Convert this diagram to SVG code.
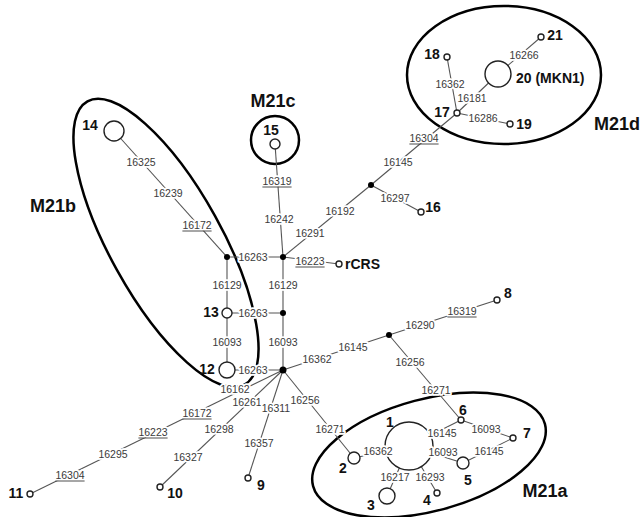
<svg xmlns="http://www.w3.org/2000/svg" width="643" height="517" viewBox="0 0 643 517">
<style>
.ln{stroke:#555;stroke-width:1.1;fill:none}
.grp{stroke:#000;stroke-width:2.5;fill:none}
.nd{fill:#fff;stroke:#222;stroke-width:1.4}
.dot{fill:#000}
.mu{font-family:"Liberation Sans",Arial,sans-serif;font-size:10.5px;fill:#3a3a3a;text-anchor:middle;stroke:#fff;stroke-width:3.5px;paint-order:stroke;stroke-linejoin:round}
.ul{stroke:#3a3a3a;stroke-width:0.9}
.nl{font-family:"Liberation Sans",Arial,sans-serif;font-size:14px;font-weight:bold;fill:#111;text-anchor:middle}
.gl{font-family:"Liberation Sans",Arial,sans-serif;font-size:18px;font-weight:bold;fill:#111;text-anchor:middle}
</style>
<rect width="643" height="517" fill="#fff"/>
<g id="groups">
<ellipse class="grp" cx="166" cy="243" rx="162" ry="56" transform="rotate(61 166 243)"/>
<circle class="grp" cx="275" cy="140" r="24"/>
<ellipse class="grp" cx="504" cy="75" rx="97" ry="69"/>
<ellipse class="grp" cx="429" cy="455" rx="120" ry="56" transform="rotate(-15 429 455)"/>
<text class="gl" x="53" y="212">M21b</text>
<text class="gl" x="273" y="107">M21c</text>
<text class="gl" x="617" y="130">M21d</text>
<text class="gl" x="545" y="497">M21a</text>
</g>
<g id="connectors">
<line class="ln" x1="275" y1="144" x2="283" y2="257"/>
<line class="ln" x1="283" y1="257" x2="283" y2="370"/>
<line class="ln" x1="227" y1="257" x2="283" y2="257"/>
<line class="ln" x1="227" y1="257" x2="227" y2="370"/>
<line class="ln" x1="227" y1="313" x2="283" y2="313"/>
<line class="ln" x1="227" y1="370" x2="283" y2="370"/>
<line class="ln" x1="114" y1="131" x2="227" y2="257"/>
<line class="ln" x1="283" y1="257" x2="339" y2="264"/>
<line class="ln" x1="283" y1="257" x2="371" y2="185"/>
<line class="ln" x1="371" y1="185" x2="457" y2="113"/>
<line class="ln" x1="371" y1="185" x2="421" y2="212"/>
<line class="ln" x1="457" y1="113" x2="447" y2="57"/>
<line class="ln" x1="457" y1="113" x2="498" y2="74"/>
<line class="ln" x1="498" y1="74" x2="541" y2="37"/>
<line class="ln" x1="457" y1="113" x2="510" y2="124"/>
<line class="ln" x1="283" y1="370" x2="389" y2="335"/>
<line class="ln" x1="389" y1="335" x2="497" y2="300"/>
<line class="ln" x1="389" y1="335" x2="461" y2="420"/>
<line class="ln" x1="283" y1="370" x2="354" y2="458"/>
<line class="ln" x1="283" y1="370" x2="30" y2="494"/>
<line class="ln" x1="283" y1="370" x2="160" y2="487"/>
<line class="ln" x1="283" y1="370" x2="248" y2="478"/>
<line class="ln" x1="409" y1="446" x2="461" y2="420"/>
<line class="ln" x1="461" y1="420" x2="513" y2="438"/>
<line class="ln" x1="513" y1="438" x2="463" y2="463"/>
<line class="ln" x1="409" y1="446" x2="463" y2="463"/>
<line class="ln" x1="409" y1="446" x2="354" y2="458"/>
<line class="ln" x1="409" y1="446" x2="387" y2="496"/>
<line class="ln" x1="409" y1="446" x2="437" y2="493"/>
</g>
<g id="junctions">
<circle class="dot" cx="283" cy="257" r="3"/>
<circle class="dot" cx="227" cy="257" r="3"/>
<circle class="dot" cx="283" cy="313" r="3"/>
<circle class="dot" cx="283" cy="370" r="3.5"/>
<circle class="dot" cx="371" cy="185" r="3"/>
<circle class="dot" cx="389" cy="335" r="3"/>
</g>
<g id="node1"><circle class="nd" cx="409" cy="446" r="24"/><text class="nl" x="390" y="427">1</text></g>
<g id="node2"><circle class="nd" cx="354" cy="458" r="6"/><text class="nl" x="343" y="473">2</text></g>
<g id="node3"><circle class="nd" cx="387" cy="496" r="8"/><text class="nl" x="371" y="510">3</text></g>
<g id="node4"><circle class="nd" cx="437" cy="493" r="3"/><text class="nl" x="427" y="505">4</text></g>
<g id="node5"><circle class="nd" cx="463" cy="463" r="6"/><text class="nl" x="468" y="485">5</text></g>
<g id="node6"><circle class="nd" cx="461" cy="420" r="3"/><text class="nl" x="463" y="415">6</text></g>
<g id="node7"><circle class="nd" cx="513" cy="438" r="3"/><text class="nl" x="527" y="438">7</text></g>
<g id="node8"><circle class="nd" cx="497" cy="300" r="3"/><text class="nl" x="508" y="298">8</text></g>
<g id="node9"><circle class="nd" cx="248" cy="478" r="3"/><text class="nl" x="261" y="490">9</text></g>
<g id="node10"><circle class="nd" cx="160" cy="487" r="3"/><text class="nl" x="175" y="498">10</text></g>
<g id="node11"><circle class="nd" cx="30" cy="494" r="3"/><text class="nl" x="16" y="498">11</text></g>
<g id="node12"><circle class="nd" cx="227" cy="370" r="8"/><text class="nl" x="207" y="374">12</text></g>
<g id="node13"><circle class="nd" cx="227" cy="313" r="5"/><text class="nl" x="211" y="317">13</text></g>
<g id="node14"><circle class="nd" cx="114" cy="131" r="10"/><text class="nl" x="90" y="130">14</text></g>
<g id="node15"><circle class="nd" cx="275" cy="144" r="5"/><text class="nl" x="271" y="135">15</text></g>
<g id="node16"><circle class="nd" cx="421" cy="212" r="3"/><text class="nl" x="433" y="212">16</text></g>
<g id="node17"><circle class="nd" cx="457" cy="113" r="3"/><text class="nl" x="442" y="117">17</text></g>
<g id="node18"><circle class="nd" cx="447" cy="57" r="3"/><text class="nl" x="432" y="59">18</text></g>
<g id="node19"><circle class="nd" cx="510" cy="124" r="3"/><text class="nl" x="524" y="129">19</text></g>
<g id="node20"><circle class="nd" cx="498" cy="74" r="13"/><text class="nl" x="516" y="83" style="text-anchor:start">20 (MKN1)</text></g>
<g id="node21"><circle class="nd" cx="541" cy="37" r="3"/><text class="nl" x="555" y="40">21</text></g>
<g id="rCRS"><circle class="nd" cx="339" cy="264" r="3"/><text class="nl" x="345" y="269" style="text-anchor:start">rCRS</text></g>
<g id="mutations">
<text class="mu" x="277" y="185">16319</text>
<text class="mu" x="279" y="223">16242</text>
<text class="mu" x="253" y="261">16263</text>
<text class="mu" x="253" y="317">16263</text>
<text class="mu" x="253" y="374">16263</text>
<text class="mu" x="227" y="289">16129</text>
<text class="mu" x="283" y="289">16129</text>
<text class="mu" x="227" y="346">16093</text>
<text class="mu" x="283" y="346">16093</text>
<text class="mu" x="141" y="166">16325</text>
<text class="mu" x="168" y="197">16239</text>
<text class="mu" x="197" y="229">16172</text>
<text class="mu" x="310" y="265">16223</text>
<text class="mu" x="310" y="237">16291</text>
<text class="mu" x="340" y="215">16192</text>
<text class="mu" x="398" y="166">16145</text>
<text class="mu" x="424" y="142">16304</text>
<text class="mu" x="395" y="202">16297</text>
<text class="mu" x="450" y="88">16362</text>
<text class="mu" x="472" y="102">16181</text>
<text class="mu" x="524" y="59">16266</text>
<text class="mu" x="483" y="122">16286</text>
<text class="mu" x="317" y="363">16362</text>
<text class="mu" x="353" y="351">16145</text>
<text class="mu" x="420" y="329">16290</text>
<text class="mu" x="462" y="315">16319</text>
<text class="mu" x="410" y="366">16256</text>
<text class="mu" x="436" y="394">16271</text>
<text class="mu" x="305" y="404">16256</text>
<text class="mu" x="330" y="433">16271</text>
<text class="mu" x="235" y="393">16162</text>
<text class="mu" x="247" y="406">16261</text>
<text class="mu" x="276" y="412">16311</text>
<text class="mu" x="197" y="417">16172</text>
<text class="mu" x="219" y="433">16298</text>
<text class="mu" x="259" y="447">16357</text>
<text class="mu" x="153" y="436">16223</text>
<text class="mu" x="188" y="461">16327</text>
<text class="mu" x="113" y="458">16295</text>
<text class="mu" x="70" y="479">16304</text>
<text class="mu" x="442" y="437">16145</text>
<text class="mu" x="486" y="433">16093</text>
<text class="mu" x="378" y="455">16362</text>
<text class="mu" x="443" y="456">16093</text>
<text class="mu" x="489" y="455">16145</text>
<text class="mu" x="395" y="481">16217</text>
<text class="mu" x="430" y="481">16293</text>
<line class="ul" x1="262.4" y1="187" x2="291.6" y2="187"/>
<line class="ul" x1="182.4" y1="231" x2="211.6" y2="231"/>
<line class="ul" x1="295.4" y1="267" x2="324.6" y2="267"/>
<line class="ul" x1="409.4" y1="144" x2="438.6" y2="144"/>
<line class="ul" x1="447.4" y1="317" x2="476.6" y2="317"/>
<line class="ul" x1="182.4" y1="419" x2="211.6" y2="419"/>
<line class="ul" x1="138.4" y1="438" x2="167.6" y2="438"/>
<line class="ul" x1="55.4" y1="481" x2="84.6" y2="481"/>
</g>
</svg>
